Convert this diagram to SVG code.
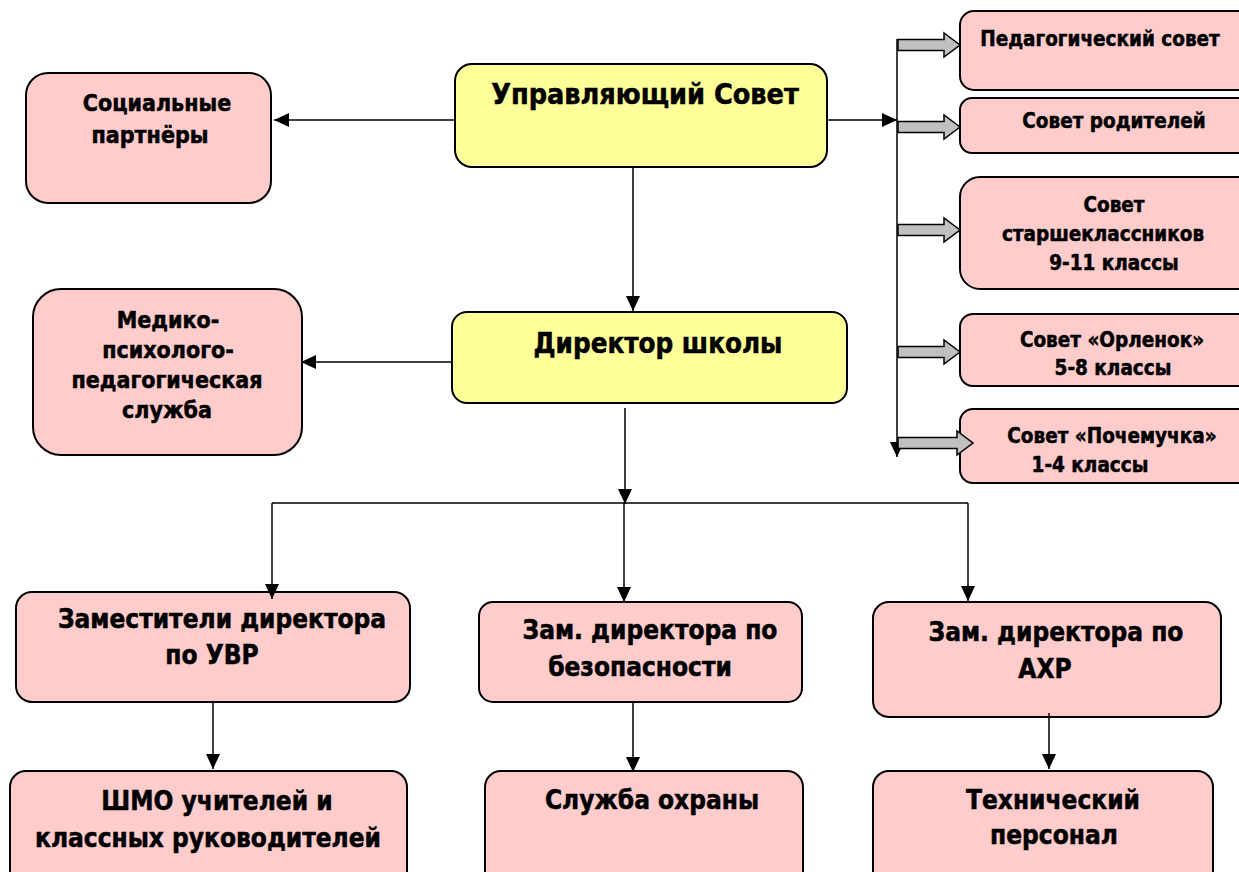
<svg xmlns="http://www.w3.org/2000/svg" width="1239" height="872" viewBox="0 0 1239 872">
<style>
  .box{stroke:#000;stroke-width:2}
  .pink{fill:#FFCCCC}
  .yellow{fill:#FFFF99}
  .t{font-family:"DejaVu Sans Condensed","DejaVu Sans",Verdana,sans-serif;font-stretch:condensed;font-weight:bold;fill:#000;text-anchor:middle;stroke:#000;stroke-width:0.5}
  .conn{stroke:#000;stroke-width:1.5;fill:none}
  .blk{fill:#C0C0C0;stroke:#000;stroke-width:1.5}
</style>
<defs>
  <marker id="ah" viewBox="0 0 15 14" refX="15" refY="7" markerWidth="15" markerHeight="14" markerUnits="userSpaceOnUse" orient="auto">
    <path d="M0,0 L15,7 L0,14 Z" fill="#000"/>
  </marker>
</defs>
<rect width="1239" height="872" fill="#fff"/>

<g id="node-socialnye">
  <rect class="box pink" x="26" y="73" width="245" height="130" rx="22"/>
  <text class="t" x="157" y="111" font-size="23">Социальные</text>
  <text class="t" x="150" y="143" font-size="23">партнёры</text>
</g>

<g id="node-upr-sovet">
  <rect class="box yellow" x="455" y="64" width="372" height="103" rx="17"/>
  <text class="t" x="645" y="104" font-size="28.5">Управляющий Совет</text>
</g>

<g id="node-direktor">
  <rect class="box yellow" x="452" y="312" width="395" height="91" rx="15"/>
  <text class="t" x="658" y="353" font-size="27.5">Директор школы</text>
</g>

<g id="node-medico">
  <rect class="box pink" x="33" y="289" width="269" height="166" rx="28"/>
  <text class="t" x="168" y="328" font-size="23">Медико-</text>
  <text class="t" x="168" y="358" font-size="23">психолого-</text>
  <text class="t" x="167" y="388" font-size="23">педагогическая</text>
  <text class="t" x="167" y="418" font-size="23">служба</text>
</g>

<g id="node-ped-sovet">
  <rect class="box pink" x="960" y="11" width="300" height="79" rx="14"/>
  <text class="t" x="1100" y="46" font-size="20.5">Педагогический совет</text>
</g>

<g id="node-sovet-roditelei">
  <rect class="box pink" x="960" y="98" width="300" height="55" rx="12"/>
  <text class="t" x="1114" y="128" font-size="20.5">Совет родителей</text>
</g>

<g id="node-starsheklassniki">
  <rect class="box pink" x="960" y="177" width="300" height="112" rx="20"/>
  <text class="t" x="1114" y="212" font-size="20.5">Совет</text>
  <text class="t" x="1103" y="241" font-size="20.5">старшеклассников</text>
  <text class="t" x="1114" y="270" font-size="20.5">9-11 классы</text>
</g>

<g id="node-orlenok">
  <rect class="box pink" x="960" y="314" width="300" height="72" rx="13"/>
  <text class="t" x="1112" y="347" font-size="20.5">Совет «Орленок»</text>
  <text class="t" x="1113" y="375" font-size="20.5">5-8 классы</text>
</g>

<g id="node-pochemuchka">
  <rect class="box pink" x="960" y="409" width="300" height="74" rx="13"/>
  <text class="t" x="1112" y="443" font-size="20.5">Совет «Почемучка»</text>
  <text class="t" x="1090" y="472" font-size="20.5">1-4 классы</text>
</g>

<g id="node-zam-uvr">
  <rect class="box pink" x="16" y="592" width="394" height="110" rx="16"/>
  <text class="t" x="222" y="628" font-size="26">Заместители директора</text>
  <text class="t" x="212" y="664" font-size="26">по УВР</text>
</g>

<g id="node-zam-bez">
  <rect class="box pink" x="479" y="602" width="323" height="100" rx="14"/>
  <text class="t" x="650" y="639" font-size="26">Зам. директора по</text>
  <text class="t" x="640" y="676" font-size="26">безопасности</text>
</g>

<g id="node-zam-ahr">
  <rect class="box pink" x="873" y="602" width="348" height="115" rx="16"/>
  <text class="t" x="1056" y="641" font-size="26">Зам. директора по</text>
  <text class="t" x="1045" y="678" font-size="26">АХР</text>
</g>

<g id="node-shmo">
  <rect class="box pink" x="10" y="771" width="397" height="130" rx="16"/>
  <text class="t" x="217" y="810" font-size="26">ШМО учителей и</text>
  <text class="t" x="208" y="847" font-size="26">классных руководителей</text>
</g>

<g id="node-ohrana">
  <rect class="box pink" x="485" y="771" width="318" height="130" rx="16"/>
  <text class="t" x="652" y="809" font-size="26">Служба охраны</text>
</g>

<g id="node-tech">
  <rect class="box pink" x="873" y="771" width="340" height="130" rx="16"/>
  <text class="t" x="1053" y="809" font-size="26">Технический</text>
  <text class="t" x="1054" y="844" font-size="26">персонал</text>
</g>

<g id="connectors">
  <line class="conn" x1="455" y1="120" x2="274" y2="120" marker-end="url(#ah)"/>
  <line class="conn" x1="827" y1="120" x2="897" y2="120" marker-end="url(#ah)"/>
  <line class="conn" x1="897" y1="39" x2="897" y2="457" marker-end="url(#ah)"/>
  <line class="conn" x1="633" y1="167" x2="633" y2="311" marker-end="url(#ah)"/>
  <line class="conn" x1="452" y1="362" x2="301" y2="362" marker-end="url(#ah)"/>
  <line class="conn" x1="625" y1="408" x2="625" y2="504" marker-end="url(#ah)"/>
  <polyline class="conn" points="272,503 968,503"/>
  <line class="conn" x1="272" y1="503" x2="272" y2="599" marker-end="url(#ah)"/>
  <line class="conn" x1="624" y1="503" x2="624" y2="602" marker-end="url(#ah)"/>
  <line class="conn" x1="968" y1="503" x2="968" y2="601" marker-end="url(#ah)"/>
  <line class="conn" x1="213" y1="702" x2="213" y2="769" marker-end="url(#ah)"/>
  <line class="conn" x1="633" y1="702" x2="633" y2="772" marker-end="url(#ah)"/>
  <line class="conn" x1="1049" y1="713" x2="1049" y2="769" marker-end="url(#ah)"/>
  <path class="blk" d="M898,39.5 H944 V33 L960,45 L944,57 V50.5 H898 Z"/>
  <path class="blk" d="M898,121.5 H944 V115 L960,127 L944,139 V132.5 H898 Z"/>
  <path class="blk" d="M898,224.5 H944 V218 L960,230 L944,242 V235.5 H898 Z"/>
  <path class="blk" d="M898,346.5 H944 V340 L960,352 L944,364 V357.5 H898 Z"/>
  <path class="blk" d="M898,437.5 H957 V431 L973,443 L957,455 V448.5 H898 Z"/>
</g>
</svg>
